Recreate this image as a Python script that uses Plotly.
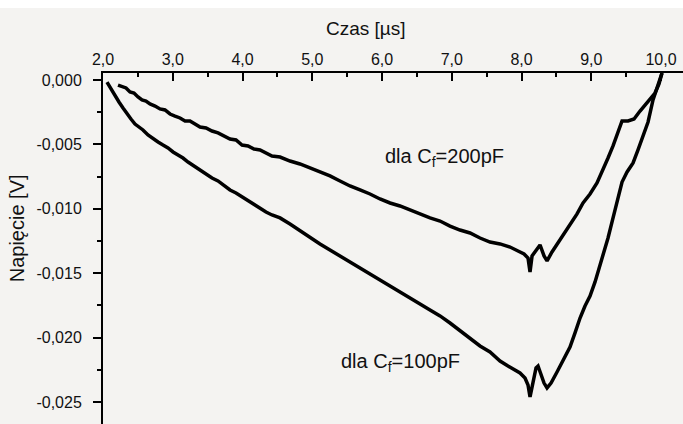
import plotly.graph_objects as go

# ---- data (time in microseconds, voltage in V) ----
t_200pF = [2.215, 2.272, 2.330, 2.387, 2.444, 2.502, 2.559, 2.616, 2.674, 2.746,
           2.817, 2.889, 2.961, 3.032, 3.104, 3.176, 3.247, 3.319, 3.391, 3.477,
           3.563, 3.649, 3.735, 3.821, 3.907, 3.993, 4.079, 4.165, 4.251, 4.337,
           4.423, 4.538, 4.681, 4.824, 4.968, 5.111, 5.254, 5.398, 5.541, 5.685,
           5.828, 5.971, 6.115, 6.258, 6.401, 6.545, 6.688, 6.832, 6.975, 7.118,
           7.262, 7.405, 7.548, 7.692, 7.835, 7.950, 8.036, 8.093, 8.122, 8.151,
           8.208, 8.265, 8.323, 8.366, 8.437, 8.523, 8.609, 8.695, 8.796, 8.882,
           8.982, 9.082, 9.168, 9.240, 9.312, 9.384, 9.441, 9.527, 9.613, 9.699,
           9.785, 9.857, 9.914, 9.971, 10.014]
u_200pF = [-0.00039, -0.00054, -0.00062, -0.00093, -0.00101, -0.00132, -0.00155, -0.00163, -0.00186, -0.00202,
           -0.00225, -0.00233, -0.00264, -0.00280, -0.00295, -0.00318, -0.00318, -0.00342, -0.00365, -0.00373,
           -0.00396, -0.00411, -0.00435, -0.00458, -0.00466, -0.00505, -0.00512, -0.00536, -0.00543, -0.00567,
           -0.00590, -0.00598, -0.00629, -0.00652, -0.00683, -0.00714, -0.00745, -0.00784, -0.00823, -0.00854,
           -0.00885, -0.00924, -0.00955, -0.00978, -0.01009, -0.01033, -0.01071, -0.01095, -0.01134, -0.01165,
           -0.01188, -0.01227, -0.01258, -0.01273, -0.01297, -0.01328, -0.01351, -0.01382, -0.01491, -0.01366,
           -0.01320, -0.01281, -0.01366, -0.01405, -0.01335, -0.01266, -0.01196, -0.01118, -0.01040, -0.00955,
           -0.00885, -0.00800, -0.00699, -0.00606, -0.00512, -0.00411, -0.00318, -0.00318, -0.00303, -0.00241,
           -0.00186, -0.00140, -0.00101, -0.00031, 0.00054]

t_100pF = [2.057, 2.115, 2.172, 2.229, 2.287, 2.344, 2.401, 2.459, 2.516, 2.573,
           2.645, 2.717, 2.789, 2.860, 2.932, 3.004, 3.075, 3.147, 3.219, 3.305,
           3.391, 3.477, 3.563, 3.649, 3.735, 3.821, 3.907, 3.993, 4.079, 4.165,
           4.251, 4.337, 4.423, 4.538, 4.681, 4.824, 4.968, 5.111, 5.254, 5.398,
           5.541, 5.685, 5.828, 5.971, 6.115, 6.258, 6.401, 6.545, 6.688, 6.832,
           6.975, 7.118, 7.262, 7.405, 7.548, 7.692, 7.806, 7.907, 7.978, 8.050,
           8.093, 8.122, 8.165, 8.208, 8.237, 8.280, 8.323, 8.366, 8.423, 8.509,
           8.595, 8.695, 8.767, 8.839, 8.910, 8.982, 9.054, 9.125, 9.183, 9.240,
           9.312, 9.384, 9.441, 9.513, 9.599, 9.670, 9.742, 9.814, 9.885, 9.943,
           10.014]
u_100pF = [-0.00016, -0.00070, -0.00124, -0.00171, -0.00217, -0.00264, -0.00303, -0.00342, -0.00365, -0.00388,
           -0.00427, -0.00458, -0.00481, -0.00505, -0.00528, -0.00559, -0.00582, -0.00606, -0.00637, -0.00668,
           -0.00699, -0.00730, -0.00761, -0.00784, -0.00823, -0.00854, -0.00877, -0.00908, -0.00932, -0.00971,
           -0.00994, -0.01025, -0.01048, -0.01071, -0.01118, -0.01172, -0.01219, -0.01273, -0.01320, -0.01366,
           -0.01413, -0.01460, -0.01506, -0.01553, -0.01599, -0.01646, -0.01693, -0.01739, -0.01786, -0.01832,
           -0.01887, -0.01949, -0.02010, -0.02065, -0.02112, -0.02182, -0.02221, -0.02252, -0.02275, -0.02314,
           -0.02368, -0.02461, -0.02329, -0.02236, -0.02221, -0.02283, -0.02353, -0.02391, -0.02353, -0.02267,
           -0.02174, -0.02073, -0.01964, -0.01848, -0.01755, -0.01677, -0.01568, -0.01444, -0.01335, -0.01227,
           -0.01071, -0.00908, -0.00792, -0.00714, -0.00644, -0.00543, -0.00443, -0.00326, -0.00155, -0.00062,
           0.00054]

x_ticks = [2, 3, 4, 5, 6, 7, 8, 9, 10]
x_ticktext = ["2,0", "3,0", "4,0", "5,0", "6,0", "7,0", "8,0", "9,0", "10,0"]
x_minor = [2.5, 3.5, 4.5, 5.5, 6.5, 7.5, 8.5, 9.5]
y_ticks = [0, -0.005, -0.010, -0.015, -0.020, -0.025]
y_ticktext = ["0,000", "-0,005", "-0,010", "-0,015", "-0,020", "-0,025"]
y_minor = [-0.0025, -0.0075, -0.0125, -0.0175, -0.0225]

FONT = "Liberation Sans, Arial, sans-serif"
BG = "#f4f3f1"

fig = go.Figure()
fig.add_trace(go.Scatter(x=t_200pF, y=u_200pF, mode="lines",
                         line=dict(color="black", width=3.5), showlegend=False))
fig.add_trace(go.Scatter(x=t_100pF, y=u_100pF, mode="lines",
                         line=dict(color="black", width=3.5), showlegend=False))

# the figure sits 8 px below the top of the white page (white strip as in the reference)
fig.update_layout(
    width=683, height=416,
    margin=dict(l=103, r=0, t=65, b=0, autoexpand=False),
    paper_bgcolor=BG, plot_bgcolor=BG,
    font=dict(family=FONT, size=16, color="#111111"),
    showlegend=False,
)
fig.update_xaxes(
    side="top", range=[2.0, 10.315], automargin=False,
    tickmode="array", tickvals=x_ticks, ticktext=x_ticktext,
    ticks="inside", ticklen=8, tickwidth=2, tickcolor="black",
    minor=dict(tickmode="array", tickvals=x_minor, ticks="inside",
               ticklen=4, tickwidth=2, tickcolor="black"),
    showline=True, linecolor="black", linewidth=2,
    showgrid=False, zeroline=False,
    tickfont=dict(size=16),
)
fig.update_yaxes(
    range=[-0.02671, 0.000543], automargin=False,
    tickmode="array", tickvals=y_ticks, ticktext=y_ticktext,
    ticks="outside", ticklen=8, tickwidth=2, tickcolor="black",
    minor=dict(tickmode="array", tickvals=y_minor, ticks="outside",
               ticklen=4, tickwidth=2, tickcolor="black"),
    ticklabelstandoff=8,
    showline=True, linecolor="black", linewidth=2,
    showgrid=False, zeroline=False,
    tickfont=dict(size=16),
)

fig.add_annotation(x=6.889, y=-0.00598, xref="x", yref="y",
                   text="dla C<sub>f</sub>=200pF", showarrow=False,
                   font=dict(size=20, family=FONT, color="#111111"))
fig.add_annotation(x=6.258, y=-0.02197, xref="x", yref="y",
                   text="dla C<sub>f</sub>=100pF", showarrow=False,
                   font=dict(size=20, family=FONT, color="#111111"))
fig.add_annotation(x=0.453, y=1 + 45 / 351, xref="paper", yref="paper",
                   text="Czas [µs]", showarrow=False,
                   xanchor="center", yanchor="middle",
                   font=dict(size=19, family=FONT, color="#111111"))
fig.add_annotation(x=-0.148, y=0.558, xref="paper", yref="paper",
                   text="Napięcie [V]", showarrow=False, textangle=-90,
                   xanchor="center", yanchor="middle",
                   font=dict(size=20, family=FONT, color="#111111"))

fig.write_html("out.html", config={"displayModeBar": False},
               post_script="document.body.style.margin='8px 0 0 0';"
                           "document.body.style.overflow='hidden';"
                           "document.body.style.background='white';")
